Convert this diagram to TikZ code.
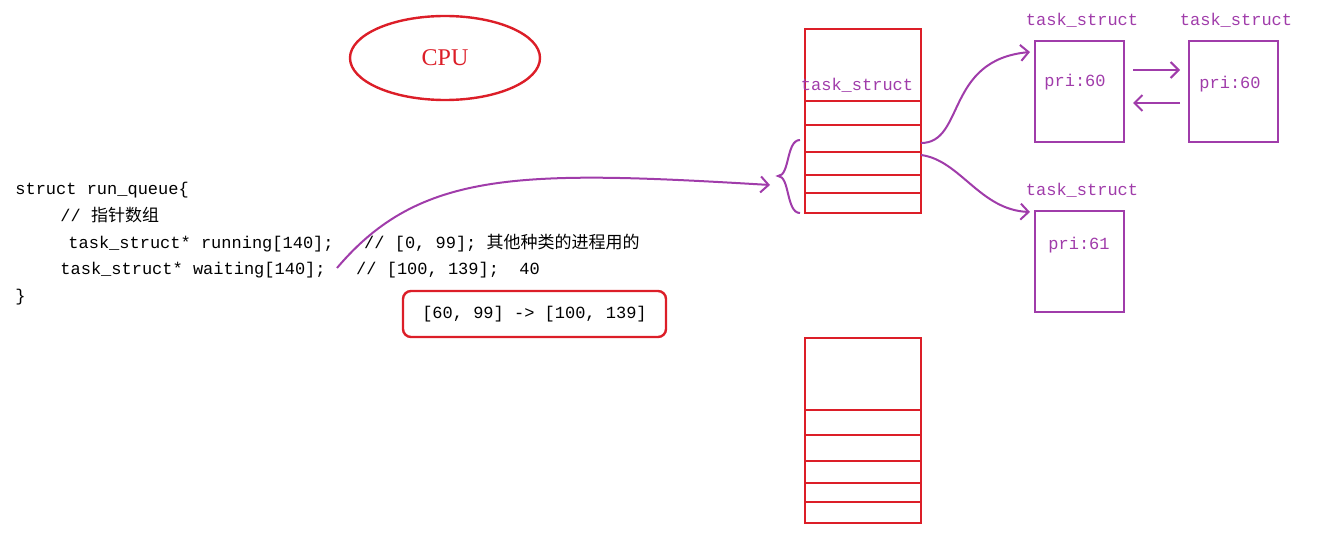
\documentclass[tikz,border=0pt]{standalone}
\usepackage{fontspec}
\usetikzlibrary{shapes.geometric,arrows.meta}
\setmainfont{Liberation Serif}
\newfontfamily\codef{Liberation Mono}
\newfontfamily\cjk{Noto Sans CJK SC}
\definecolor{rd}{RGB}{220,30,40}
\definecolor{pu}{RGB}{160,60,170}
\begin{document}
\begin{tikzpicture}[x=0.5pt,y=-0.5pt,
  redbox/.style={draw=rd,line width=1.2pt},
  pubox/.style={draw=pu,line width=1pt},
  code/.style={anchor=west,inner sep=0,font=\codef\fontsize{8.5}{9}\selectfont},
  plab/.style={text=pu,inner sep=0,font=\codef\fontsize{8.5}{9}\selectfont},
  parr/.style={draw=pu,line width=1pt,-{Straight Barb[length=4pt]}}]
\useasboundingbox (0,0) rectangle (1327,551);
% CPU
\node[redbox,ellipse,minimum width=95pt,minimum height=42pt,text=rd,font=\fontsize{12}{14}\selectfont] (cpu) at (445,58) {CPU};
% code
\node[code] (l1) at (15,190) {struct run\_queue\{};
\node[code] (l2) at (60,215) {// {\cjk 指针数组}};
\node[code] (l3) at (68,243) {task\_struct* running[140];\ \ \ // [0, 99]; {\cjk 其他种类的进程用的}};
\node[code] (l4) at (60,270) {task\_struct* waiting[140];\ \ \ // [100, 139];\ \ 40};
\node[code] (l5) at (15,297) {\}};
\node[redbox,rounded corners=4pt,minimum width=131.5pt,minimum height=23pt,font=\codef\fontsize{8.5}{9}\selectfont] (rng) at (534.5,314) {[60, 99] -> [100, 139]};
% array 1
\draw[redbox] (805,29) rectangle (921,213);
\foreach \y in {101,125,152,175,193} \draw[redbox] (805,\y) -- (921,\y);
\node[plab] (ts0) at (857,85) {task\_struct};
% brace
\draw[pu,line width=1pt] (800,140) .. controls (786,140) and (790,176) .. (778,176) .. controls (790,176) and (786,213) .. (800,213);
\coordinate (br) at (770,185);
\coordinate (cs) at (337,268);
\draw[parr] (cs) .. controls (420,170) and (520,170) .. (br);
% array 2
\draw[redbox] (805,338) rectangle (921,523);
\foreach \y in {410,435,461,483,502} \draw[redbox] (805,\y) -- (921,\y);
% task boxes
\node[pubox,minimum width=44.5pt,minimum height=50.5pt,inner sep=0] (b1) at (1079.5,91.5) {};
\node[pubox,minimum width=44.5pt,minimum height=50.5pt,inner sep=0] (b2) at (1233.5,91.5) {};
\node[pubox,minimum width=44.5pt,minimum height=50.5pt,inner sep=0] (b3) at (1079.5,261.5) {};
\node[plab] (p1) at (1075,82) {pri:60};
\node[plab] (p2) at (1230,84) {pri:60};
\node[plab] (p3) at (1079,245) {pri:61};
\node[plab] (t1) at (1082,20) {task\_struct};
\node[plab] (t2) at (1236,20) {task\_struct};
\node[plab] (t3) at (1082,190) {task\_struct};
\draw[parr] (1133,70) -- (1180,70);
\draw[parr] (1180,103) -- (1133,103);
\coordinate (a1) at (921,143);
\coordinate (a2) at (921,155);
\draw[parr] (a1) .. controls (965,143) and (945,60) .. (1030,52);
\draw[parr] (a2) .. controls (960,160) and (980,210) .. (1030,212);
\end{tikzpicture}
\end{document}
